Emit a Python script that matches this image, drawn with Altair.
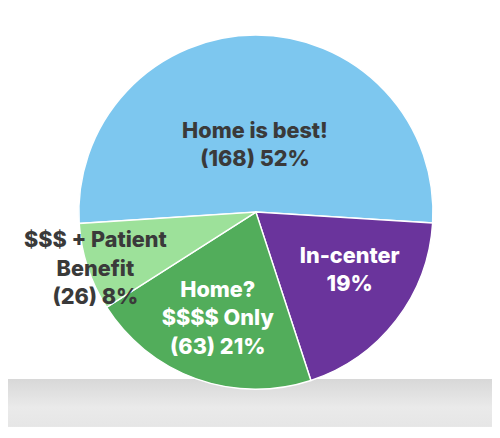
import math
import altair as alt
import pandas as pd

# Survey answers, clockwise from the top-left edge
names = ["Home is best!", "In-center", "Home? $$$$ Only", "$$$ + Patient Benefit"]
shares = [52, 19, 21, 8]
labels = [
    "Home is best!\n(168) 52%",
    "In-center\n19%",
    "Home?\n$$$$ Only\n(63) 21%",
    "$$$ + Patient\nBenefit\n(26) 8%",
]

df = pd.DataFrame({
    "name": names,
    "share": shares,
    "label": labels,
    "order": list(range(len(names))),
})

colors = ["#7DC7EF", "#6A349C", "#52AD5B", "#9DE19A"]
start = math.radians(266.3)
cx, cy, r = 252, 204, 180
line_h = 29

pie = alt.Chart(df).mark_arc(radius=r, stroke="white", strokeWidth=1.5).encode(
    theta=alt.Theta("share:Q", stack=True,
                    scale=alt.Scale(range=[start, start + 2 * math.pi])),
    order=alt.Order("order:Q"),
    x=alt.value(cx),
    y=alt.value(cy),
    color=alt.Color("name:N", legend=None,
                    scale=alt.Scale(domain=names, range=colors)),
)

# labels sit near each slice's middle angle, at an Excel "best fit" distance
text = alt.Chart(df).transform_joinaggregate(
    total="sum(share)"
).transform_window(
    cum="sum(share)", sort=[alt.SortField("order")], frame=[None, 0]
).transform_calculate(
    mid=f"{start} + (datum.cum - datum.share / 2) / datum.total * 2 * PI",
    lr="datum.order == 0 ? 68 : datum.order == 1 ? 112 : datum.order == 2 ? 115 : 173",
    tweak="datum.order == 0 ? -0.7 : datum.order == 1 ? -6 : datum.order == 2 ? 0 : -1.3",
    lines="length(split(datum.label, '\\n'))",
).transform_calculate(
    a="datum.mid + datum.tweak * PI / 180",
).transform_calculate(
    lx=f"{cx} + datum.lr * sin(datum.a)",
    ly=f"{cy} - datum.lr * cos(datum.a) - (datum.lines - 1) * {line_h} / 2",
).mark_text(
    font="Inter", fontSize=22, fontWeight=800, lineBreak="\n",
    lineHeight=line_h, align="center", baseline="middle",
).encode(
    x=alt.X("lx:Q", scale=None),
    y=alt.Y("ly:Q", scale=None),
    text="label:N",
    color=alt.condition(
        alt.FieldOneOfPredicate(field="name", oneOf=["In-center", "Home? $$$$ Only"]),
        alt.value("white"), alt.value("#3A3A3A"),
    ),
)

band = alt.Chart(df).mark_rect(
    color=alt.Gradient(
        gradient="linear", x1=0, x2=0, y1=0, y2=1,
        stops=[
            alt.GradientStop(offset=0, color="#D8D8D8"),
            alt.GradientStop(offset=0.6, color="#EAEAEA"),
            alt.GradientStop(offset=1, color="#E6E6E6"),
        ],
    )
).encode(
    x=alt.value(0), x2=alt.value(492), y=alt.value(374), y2=alt.value(422),
)

chart = (band + pie + text).properties(
    width=492,
    height=422,
    padding=0,
    autosize=alt.AutoSizeParams(type="none"),
    background="white",
).configure_view(strokeWidth=0)

chart.save("out.html", embed_options={"renderer": "svg", "actions": False})
